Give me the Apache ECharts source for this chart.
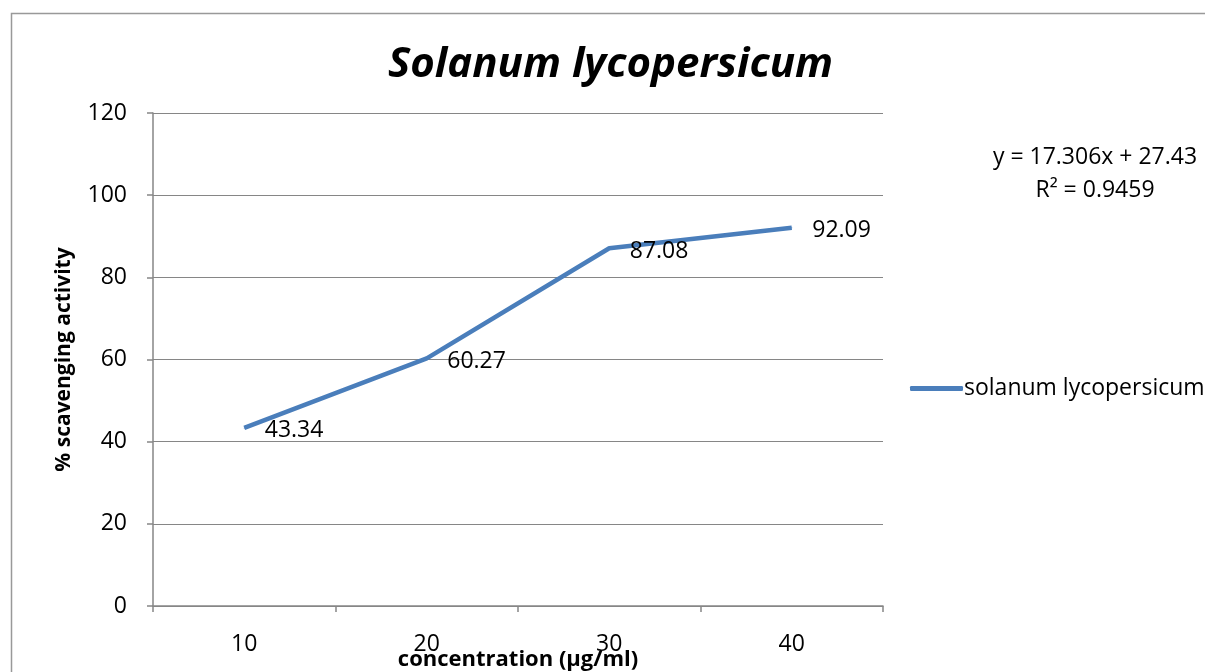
<!DOCTYPE html>
<html>
<head>
<meta charset="utf-8">
<script src="https://cdn.jsdelivr.net/npm/echarts@6/dist/echarts.min.js"></script>
<style>
  html, body { margin: 0; padding: 0; background: #fff; }
  #chart { width: 1205px; height: 672px; }
</style>
</head>
<body>
<div id="chart"></div>
<script>
const categories = ["10", "20", "30", "40"];
const scavenging = [43.34, 60.27, 87.08, 92.09];
const trendText = ["y = 17.306x + 27.43", "R\u00b2 = 0.9459"];

const font = "'Open Sans', sans-serif";
const lineColor = "#4A7EBB";
const chart = echarts.init(document.getElementById("chart"));

chart.setOption({
  animation: false,
  backgroundColor: "#fff",
  title: {
    text: "Solanum lycopersicum",
    left: 388,
    top: 44,
    padding: 0,
    textStyle: { fontFamily: font, fontSize: 42, fontWeight: "bold", fontStyle: "italic", color: "#000" },
  },
  legend: {
    left: 905,
    top: 372,
    icon: "roundRect",
    itemWidth: 53,
    itemHeight: 5,
    itemGap: 6,
    itemStyle: { color: lineColor },
    textStyle: { fontFamily: font, fontSize: 23, color: "#000", padding: [0, 0, 0, -4] },
    data: ["solanum lycopersicum"],
  },
  grid: { left: 153, right: 322, top: 113, bottom: 66, outerBoundsMode: "none" },
  xAxis: {
    type: "category",
    data: categories,
    boundaryGap: true,
    name: "concentration (\u00b5g/ml)",
    nameLocation: "middle",
    nameGap: 43,
    nameMoveOverlap: false,
    nameTextStyle: {
      fontFamily: font, fontSize: 22, fontWeight: "bold", color: "#000",
    },
    axisLine: { lineStyle: { color: "#868686", width: 1.5 } },
    axisTick: { show: true, length: 6, lineStyle: { color: "#868686", width: 1.5 } },
    axisLabel: { fontFamily: font, fontSize: 23, color: "#000", margin: 27 },
  },
  yAxis: {
    type: "value",
    min: 0,
    max: 120,
    interval: 20,
    name: "% scavenging activity",
    nameLocation: "middle",
    nameGap: 78,
    nameTextStyle: { fontFamily: font, fontSize: 21, fontWeight: "bold", color: "#000" },
    axisLine: { show: true, lineStyle: { color: "#868686", width: 1.5 } },
    axisTick: { show: true, length: 6, lineStyle: { color: "#868686", width: 1.5 } },
    axisLabel: { fontFamily: font, fontSize: 23, color: "#000", margin: 26 },
    splitLine: { show: true, lineStyle: { color: "#868686", width: 1.2 } },
  },
  series: [
    {
      name: "solanum lycopersicum",
      type: "line",
      data: scavenging,
      symbol: "circle",
      symbolSize: 1,
      showSymbol: true,
      color: lineColor,
      itemStyle: { color: lineColor },
      lineStyle: { width: 4.5, color: lineColor },
      label: {
        show: true,
        position: "right",
        distance: 20,
        offset: [0, 3],
        fontFamily: font,
        fontSize: 23,
        color: "#000",
      },
    },
  ],
  graphic: [
    {
      type: "rect",
      shape: { x: 11.5, y: 13.5, width: 1400, height: 900 },
      style: { fill: "none", stroke: "#999", lineWidth: 1.5 },
      silent: true,
    },
    {
      type: "text",
      x: 1095,
      y: 157,
      style: { text: trendText[0], fontFamily: font, fontSize: 23, fill: "#000", align: "center", verticalAlign: "middle" },
    },
    {
      type: "text",
      x: 1095,
      y: 190,
      style: { text: trendText[1], fontFamily: font, fontSize: 23, fill: "#000", align: "center", verticalAlign: "middle" },
    },
  ],
});
</script>
</body>
</html>
